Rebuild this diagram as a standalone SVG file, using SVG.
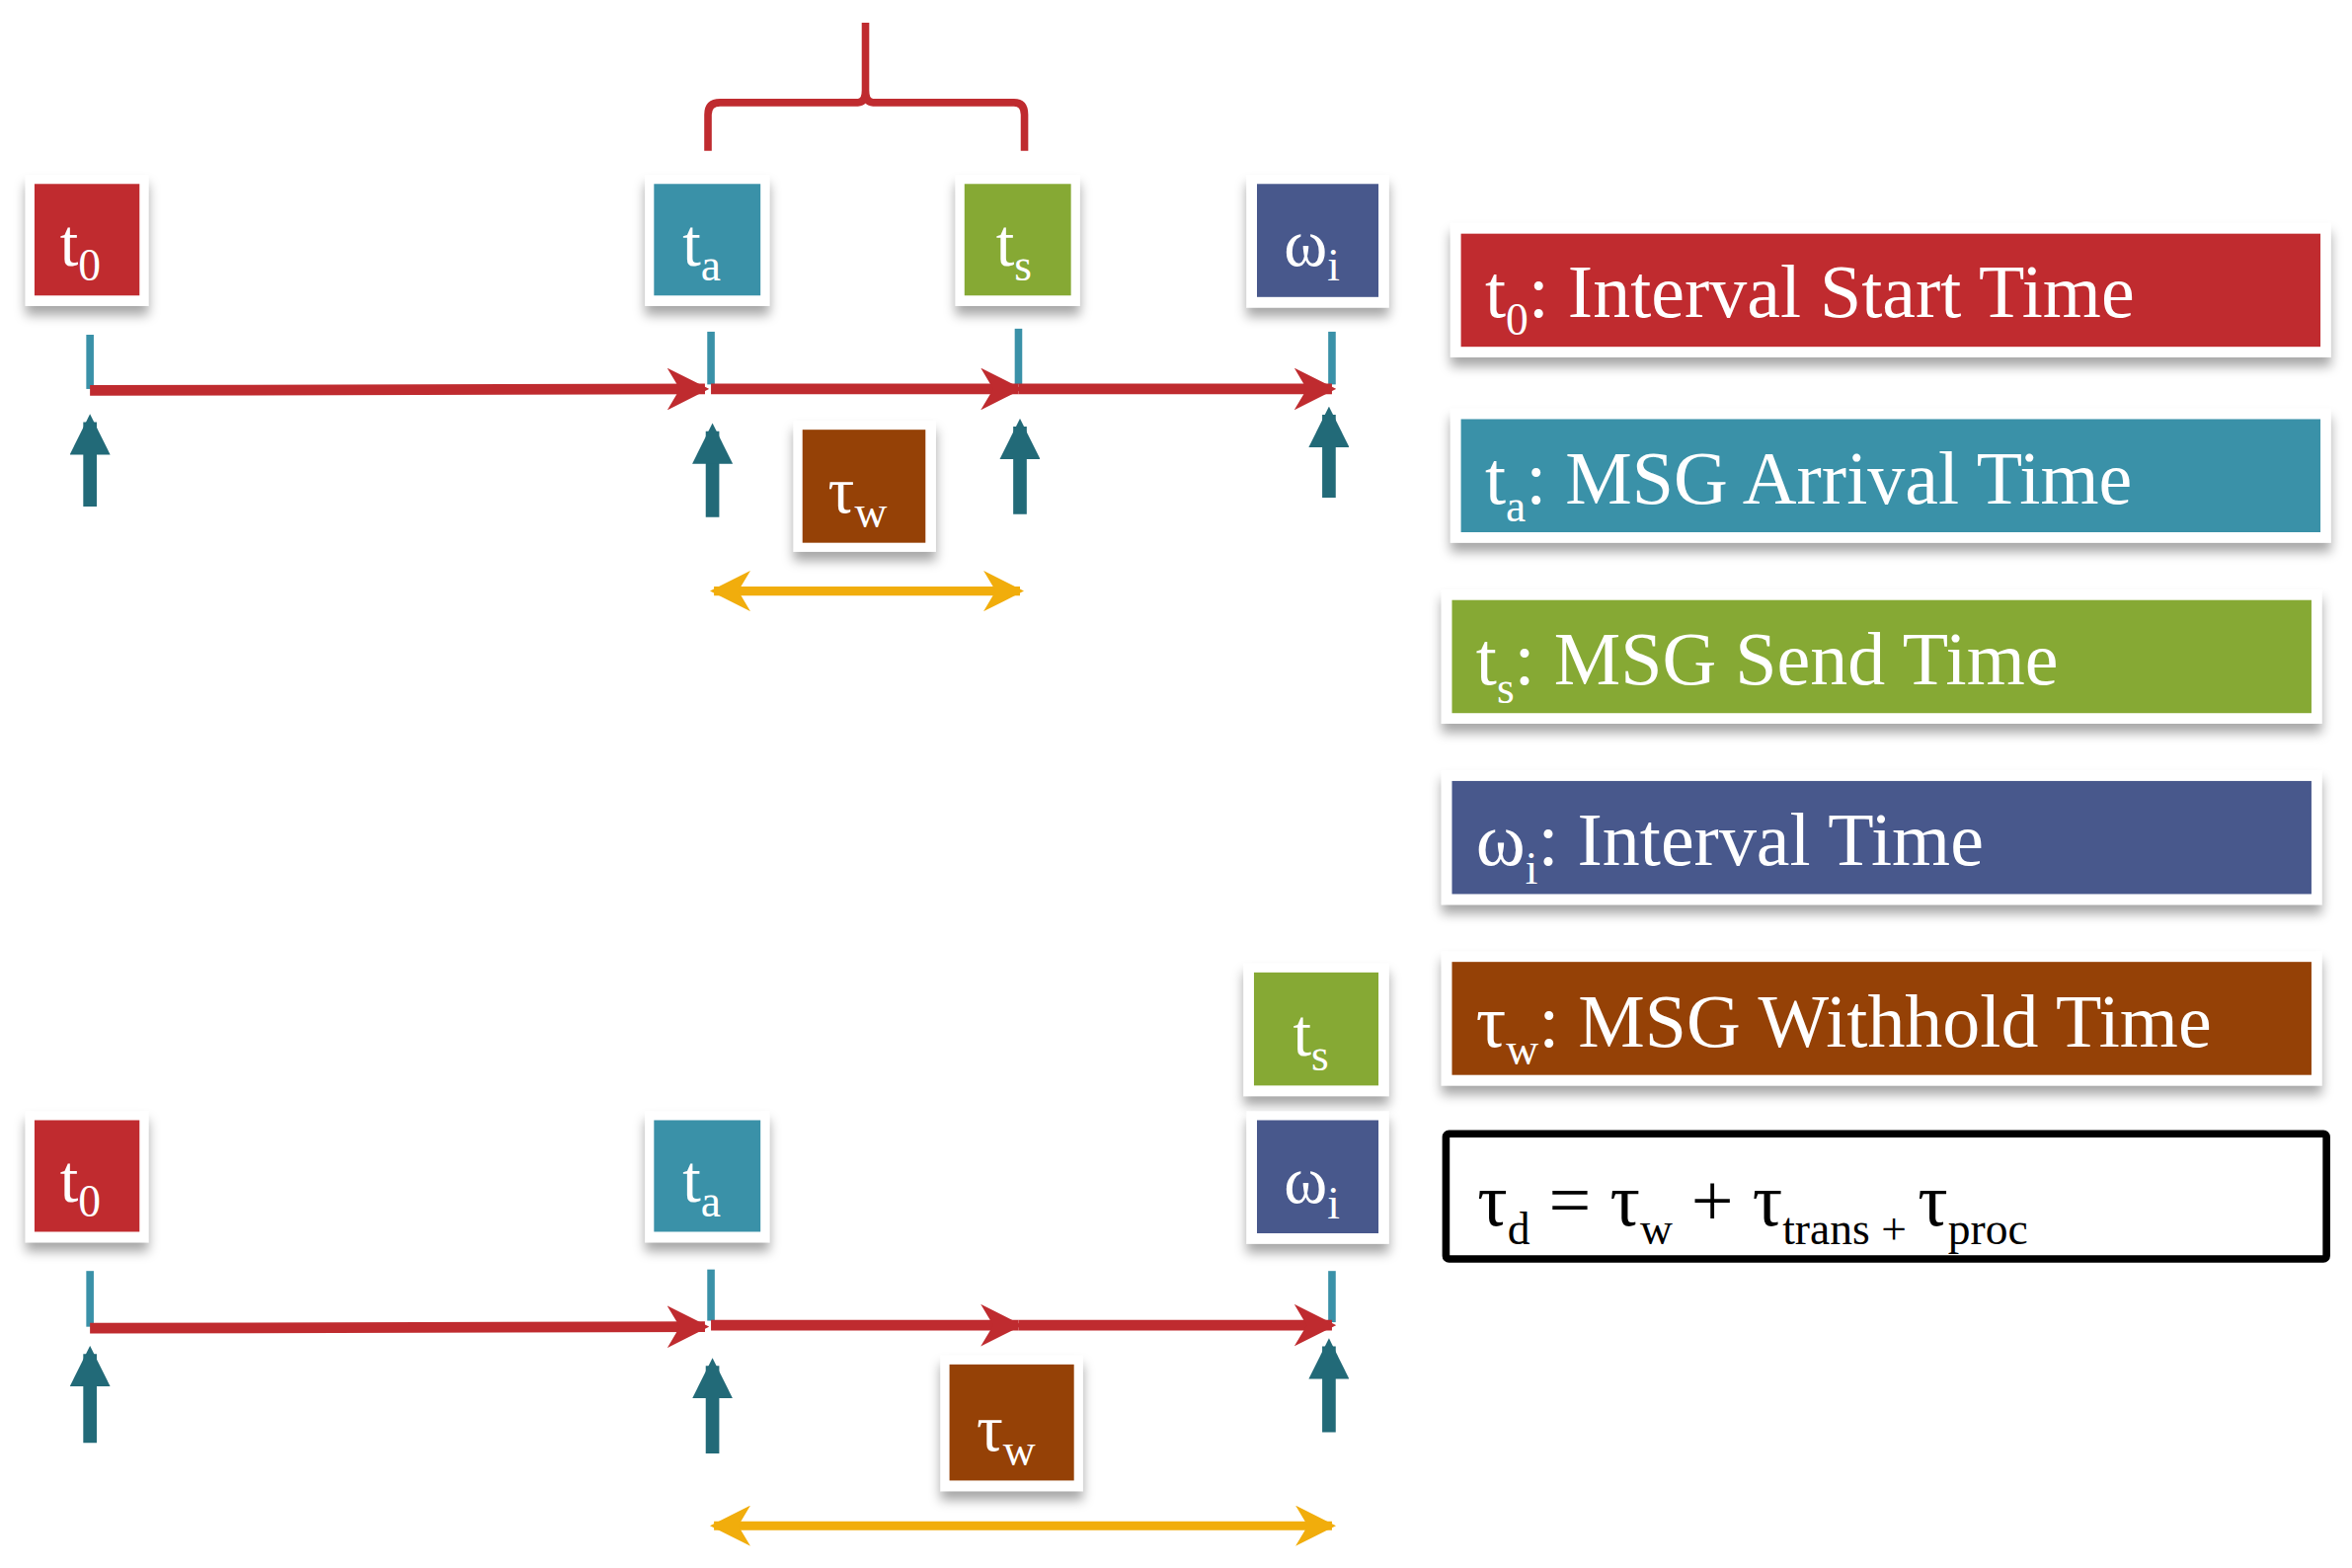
<svg xmlns="http://www.w3.org/2000/svg" width="2382" height="1588" viewBox="0 0 2382 1588">
<style>
text{font-family:"Liberation Serif","Times New Roman",serif;fill:#fff}
.frame{fill:#fff;filter:url(#sh)}
.lbl{font-size:44px}
.sub{font-size:30px}
.leg{font-size:50px}
.tick{stroke:#3a91a8;stroke-width:5}
.red{stroke:#bf2b2f;stroke-width:7;fill:none}
.up{stroke:#226a78;stroke-width:9}
.yel{stroke:#f1ad0c;stroke-width:6;fill:none}
</style>
<defs>
<filter id="sh" x="-20%" y="-20%" width="140%" height="150%"><feDropShadow dx="0" dy="6" stdDeviation="4" flood-color="#000" flood-opacity="0.35"/></filter>
<marker id="ra" viewBox="0 0 10 10" refX="9" refY="5" markerWidth="4" markerHeight="4" orient="auto"><path d="M0,0 L10,5 L0,10 L3,5 Z" fill="#bf2b2f"/></marker>
<marker id="ua" viewBox="0 0 10 10" refX="8" refY="5" markerWidth="3" markerHeight="3" orient="auto"><path d="M0,0 L10,5 L0,10 Z" fill="#226a78"/></marker>
<marker id="ya" viewBox="0 0 10 10" refX="9" refY="5" markerWidth="4.5" markerHeight="4.5" orient="auto-start-reverse"><path d="M0,0 L10,5 L0,10 L3,5 Z" fill="#f1ad0c"/></marker>
</defs>
<g transform="scale(1.5191 1.5269)">
<g id="connectors">
<path class="red" d="M472,100 V76 Q472,68 480,68 H572 Q577,68 577,60 V15 M577,60 Q577,68 582,68 H676 Q683,68 683,76 V100" style="stroke-width:5"/>
<line class="tick" x1="60" y1="222" x2="60" y2="258"/><line class="tick" x1="474" y1="220" x2="474" y2="255"/><line class="tick" x1="679" y1="218" x2="679" y2="255"/><line class="tick" x1="888" y1="220" x2="888" y2="255"/>
<line class="red" x1="60" y1="259" x2="470" y2="258" marker-end="url(#ra)"/><line class="red" x1="474" y1="258" x2="679" y2="258" marker-end="url(#ra)"/><line class="red" x1="679" y1="258" x2="888" y2="258" marker-end="url(#ra)"/>
<line class="up" x1="60" y1="336" x2="60" y2="280" marker-end="url(#ua)"/><line class="up" x1="475" y1="343" x2="475" y2="286" marker-end="url(#ua)"/><line class="up" x1="680" y1="341" x2="680" y2="283" marker-end="url(#ua)"/><line class="up" x1="886" y1="330" x2="886" y2="275" marker-end="url(#ua)"/>
<line class="yel" x1="476" y1="392" x2="680" y2="392" marker-start="url(#ya)" marker-end="url(#ya)"/>
<line class="tick" x1="60" y1="843" x2="60" y2="880"/><line class="tick" x1="474" y1="842" x2="474" y2="876"/><line class="tick" x1="888" y1="843" x2="888" y2="877"/>
<line class="red" x1="60" y1="881" x2="470" y2="880" marker-end="url(#ra)"/><line class="red" x1="474" y1="879" x2="679" y2="879" marker-end="url(#ra)"/><line class="red" x1="679" y1="879" x2="888" y2="879" marker-end="url(#ra)"/>
<line class="up" x1="60" y1="957" x2="60" y2="898" marker-end="url(#ua)"/><line class="up" x1="475" y1="964" x2="475" y2="906" marker-end="url(#ua)"/><line class="up" x1="886" y1="950" x2="886" y2="893" marker-end="url(#ua)"/>
<line class="yel" x1="476" y1="1012" x2="888" y2="1012" marker-start="url(#ya)" marker-end="url(#ya)"/>
</g>
<g id="t0-top"><rect class="frame" x="17" y="116" width="82" height="87"/><rect x="23" y="122" width="70" height="74" fill="#c02b2f"/><text x="40" y="176" class="lbl">t<tspan class="sub" dy="10">0</tspan></text></g>
<g id="ta-top"><rect class="frame" x="430" y="116" width="83" height="87"/><rect x="436" y="122" width="71" height="74" fill="#3a91a8"/><text x="455" y="176" class="lbl">t<tspan class="sub" dy="10">a</tspan></text></g>
<g id="ts-top"><rect class="frame" x="637" y="116" width="83" height="87"/><rect x="643" y="122" width="71" height="74" fill="#86a934"/><text x="664" y="176" class="lbl">t<tspan class="sub" dy="10">s</tspan></text></g>
<g id="wi-top"><rect class="frame" x="831" y="116" width="95" height="88"/><rect x="838" y="122" width="81" height="75" fill="#48588c"/><text x="856" y="176" class="lbl">ω<tspan class="sub" dy="10">i</tspan></text></g>
<g id="tw-top"><rect class="frame" x="529" y="279" width="95" height="87"/><rect x="535" y="285" width="82" height="75" fill="#954106"/><text x="552" y="340" class="lbl">τ<tspan class="sub" dy="10">w</tspan></text></g>
<g id="t0-bot"><rect class="frame" x="17" y="737" width="82" height="87"/><rect x="23" y="743" width="70" height="74" fill="#c02b2f"/><text x="40" y="797" class="lbl">t<tspan class="sub" dy="10">0</tspan></text></g>
<g id="ta-bot"><rect class="frame" x="430" y="737" width="83" height="87"/><rect x="436" y="743" width="71" height="74" fill="#3a91a8"/><text x="455" y="797" class="lbl">t<tspan class="sub" dy="10">a</tspan></text></g>
<g id="ts-bot"><rect class="frame" x="829" y="639" width="97" height="88"/><rect x="836" y="645" width="83" height="75" fill="#86a934"/><text x="862" y="700" class="lbl">t<tspan class="sub" dy="10">s</tspan></text></g>
<g id="wi-bot"><rect class="frame" x="831" y="737" width="95" height="88"/><rect x="838" y="743" width="81" height="75" fill="#48588c"/><text x="856" y="798" class="lbl">ω<tspan class="sub" dy="10">i</tspan></text></g>
<g id="tw-bot"><rect class="frame" x="627" y="899" width="95" height="90"/><rect x="633" y="905" width="83" height="77" fill="#954106"/><text x="651" y="962" class="lbl">τ<tspan class="sub" dy="10">w</tspan></text></g>
<g id="leg-t0"><rect class="frame" x="967" y="148" width="587" height="89"/><rect x="974" y="155" width="573" height="75" fill="#c02b2f"/><text x="990" y="210" class="leg">t<tspan class="sub" dy="12">0</tspan><tspan dy="-12">: Interval Start Time</tspan></text></g>
<g id="leg-ta"><rect class="frame" x="967" y="271" width="587" height="89"/><rect x="974" y="278" width="573" height="75" fill="#3a91a8"/><text x="990" y="334" class="leg">t<tspan class="sub" dy="12">a</tspan><tspan dy="-12">: MSG Arrival Time</tspan></text></g>
<g id="leg-ts"><rect class="frame" x="961" y="391" width="587" height="89"/><rect x="968" y="398" width="573" height="75" fill="#86a934"/><text x="984" y="454" class="leg">t<tspan class="sub" dy="12">s</tspan><tspan dy="-12">: MSG Send Time</tspan></text></g>
<g id="leg-wi"><rect class="frame" x="961" y="511" width="587" height="89"/><rect x="968" y="518" width="573" height="75" fill="#48588c"/><text x="984" y="574" class="leg">ω<tspan class="sub" dy="12">i</tspan><tspan dy="-12">: Interval Time</tspan></text></g>
<g id="leg-tw"><rect class="frame" x="961" y="631" width="587" height="89"/><rect x="968" y="638" width="573" height="75" fill="#954106"/><text x="984" y="694" class="leg">τ<tspan class="sub" dy="12">w</tspan><tspan dy="-12">: MSG Withhold Time</tspan></text></g>
<g id="formula"><rect x="964" y="752" width="587" height="83" fill="#fff" stroke="#000" stroke-width="5" rx="2"/><text x="985" y="813" class="leg" style="fill:#000">τ<tspan class="sub" dy="12">d</tspan><tspan dy="-12"> = τ</tspan><tspan class="sub" dy="12">w</tspan><tspan dy="-12"> + τ</tspan><tspan class="sub" dy="12">trans + </tspan><tspan dy="-12">τ</tspan><tspan class="sub" dy="12">proc</tspan></text></g>
</g>
</svg>
